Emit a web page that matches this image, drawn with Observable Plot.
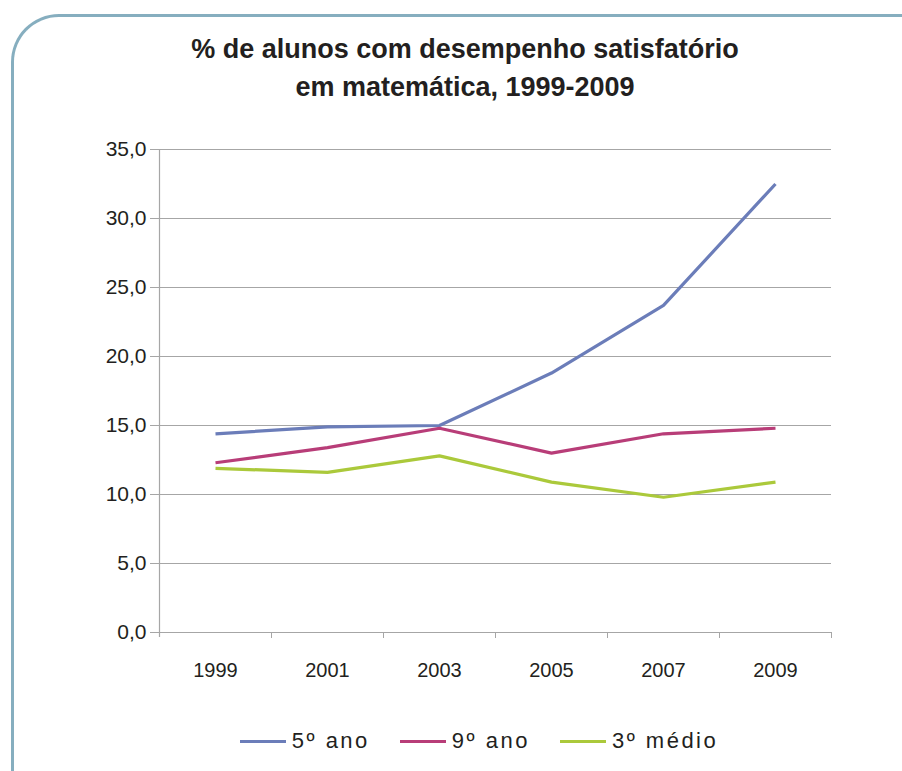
<!DOCTYPE html>
<html>
<head>
<meta charset="utf-8">
<script src="https://cdn.jsdelivr.net/npm/d3@7"></script>
<script src="https://cdn.jsdelivr.net/npm/@observablehq/plot@0.6"></script>
<style>
  html, body { margin: 0; padding: 0; background: #fff; }
  #wrap { position: relative; width: 902px; height: 771px; overflow: hidden; background: #fff; font-family: "Liberation Sans", Arial, sans-serif; }
  #frame { position: absolute; left: 11px; top: 14px; width: 1000px; height: 900px; border-top: 3px solid #86aebf; border-left: 3px solid #86aebf; border-top-left-radius: 48px; box-sizing: border-box; }
  #title { position: absolute; top: 30px; left: 0; width: 930px; text-align: center; font-weight: bold; font-size: 27px; line-height: 38px; color: #231f20; }
  #chart { position: absolute; top: 130px; left: 0; }
  #legend { position: absolute; top: 728px; left: 0; width: 958px; display: flex; justify-content: center; font-size: 22px; letter-spacing: 2.5px; color: #231f20; }
  .item { display: flex; align-items: center; margin: 0 15px; }
  .swatch { width: 46px; height: 3px; margin-right: 6px; }
</style>
</head>
<body>
<div id="wrap">
  <div id="frame"></div>
  <div id="title">% de alunos com desempenho satisfatório<br>em matemática, 1999-2009</div>
  <div id="chart"></div>
  <div id="legend"></div>
</div>
<script>
const years = [1999, 2001, 2003, 2005, 2007, 2009];
const seriesNames = ["5º ano", "9º ano", "3º médio"];
const ano5 = [14.4, 14.9, 15.0, 18.8, 23.7, 32.5];
const ano9 = [12.3, 13.4, 14.8, 13.0, 14.4, 14.8];
const medio3 = [11.9, 11.6, 12.8, 10.9, 9.8, 10.9];
const colors = ["#6b7db9", "#b83d78", "#abc93b"];
const yTicks = [0, 5, 10, 15, 20, 25, 30, 35];

const valuesBySeries = [ano5, ano9, medio3];
const data = [];
seriesNames.forEach((s, i) => years.forEach((yr, j) => data.push({series: s, year: yr, value: valuesBySeries[i][j]})));
const boundaries = [years[0] - 1, ...years.map(y => y + 1)];
const fmt = d => d.toFixed(1).replace(".", ",");

const chart = Plot.plot({
  width: 902,
  height: 580,
  marginLeft: 159,
  marginRight: 71,
  marginTop: 19,
  marginBottom: 78,
  style: {fontFamily: "Liberation Sans, Arial, sans-serif", color: "#231f20", background: "transparent"},
  x: {type: "linear", domain: [1998, 2010], label: null},
  y: {domain: [0, 35], label: null},
  color: {domain: seriesNames, range: colors},
  marks: [
    Plot.gridY(yTicks, {stroke: "#a6a6a6", strokeOpacity: 1, strokeWidth: 1.2}),
    Plot.ruleY([0], {stroke: "#a6a6a6", strokeWidth: 1.2, insetLeft: -6}),
    Plot.ruleX([1998], {stroke: "#a6a6a6", strokeWidth: 1.2, insetBottom: -5}),
    Plot.axisY({ticks: yTicks, tickFormat: fmt, tickSize: 9, tickPadding: 4, stroke: "#a6a6a6", fontSize: 21, fill: "#231f20", label: null}),
    Plot.axisX({ticks: boundaries.slice(1), tickFormat: () => "", tickSize: 6, stroke: "#a6a6a6", label: null}),
    Plot.axisX({ticks: years, tickFormat: d => String(d), tickSize: 0, tickPadding: 30, fontSize: 20, fill: "#231f20", label: null}),
    Plot.line(data, {x: "year", y: "value", z: "series", stroke: "series", strokeWidth: 3.2, strokeLinejoin: "miter", strokeLinecap: "butt"})
  ]
});
document.getElementById("chart").appendChild(chart);

const legend = document.getElementById("legend");
seriesNames.forEach((s, i) => {
  const item = document.createElement("div");
  item.className = "item";
  const sw = document.createElement("span");
  sw.className = "swatch";
  sw.style.background = colors[i];
  const lb = document.createElement("span");
  lb.textContent = s;
  item.appendChild(sw);
  item.appendChild(lb);
  legend.appendChild(item);
});
</script>
</body>
</html>
